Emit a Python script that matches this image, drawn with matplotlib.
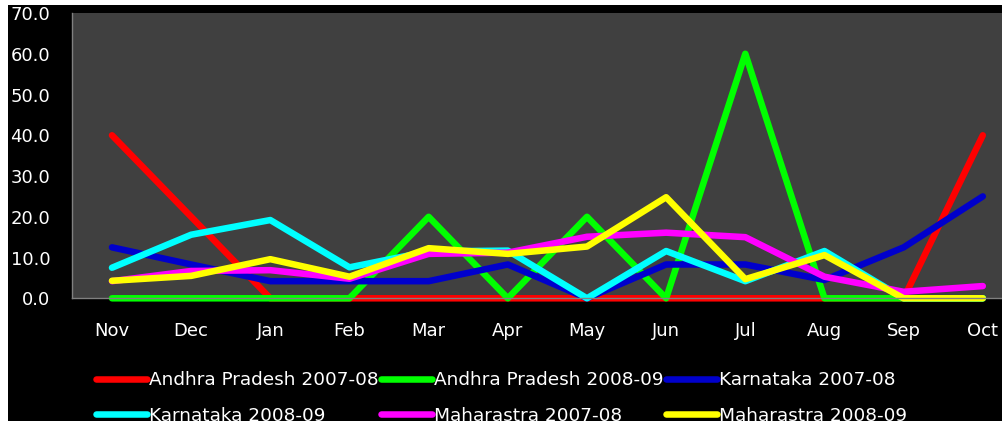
import matplotlib
matplotlib.use('Agg')
import matplotlib.pyplot as plt
from matplotlib.patches import Rectangle


months = ['Nov', 'Dec', 'Jan', 'Feb', 'Mar', 'Apr', 'May', 'Jun', 'Jul', 'Aug', 'Sep', 'Oct']

ap_0708 = [40, 20, 0, 0, 0, 0, 0, 0, 0, 0, 0, 40]
ap_0809 = [0, 0, 0, 0, 20, 0, 20, 0, 60, 0, 0, 0]
ka_0708 = [12.5, 8.3, 4.2, 4.2, 4.2, 8.3, 0, 8.3, 8.3, 4.5, 12.5, 25]
ka_0809 = [7.5, 15.6, 19.2, 7.6, 11.5, 11.7, 0, 11.6, 4.2, 11.6, 0, 0]
ma_0708 = [4.2, 6.7, 6.9, 4.8, 10.9, 11.2, 15.1, 16.1, 15.0, 5.3, 1.6, 3.0]
ma_0809 = [4.3, 5.5, 9.6, 5.3, 12.3, 10.9, 12.7, 24.8, 4.7, 10.6, 0, 0]

labels = ['Andhra Pradesh 2007-08', 'Andhra Pradesh 2008-09', 'Karnataka 2007-08',
          'Karnataka 2008-09', 'Maharastra 2007-08', 'Maharastra 2008-09']
colors = ['#ff0000', '#00ff00', '#0000cc', '#00ffff', '#ff00ff', '#ffff00']

W, H = 1002, 421

fig = plt.figure(figsize=(W / 100, H / 100), dpi=100, facecolor='white')
# black chart area, the picture has a thin white strip on the top and left
fig.patches.append(Rectangle((8 / W, 0), 1, (H - 5) / H, transform=fig.transFigure,
                             facecolor='black', edgecolor='none', zorder=-10))

# plot area runs past the right edge of the picture
ax = fig.add_axes([72.4 / W, (H - 298.3) / H, 950 / W, 285.3 / H])
ax.set_facecolor('#404040')

series = [ap_0708, ap_0809, ka_0708, ka_0809, ma_0708, ma_0809]
x = list(range(len(months)))
handles = []
for vals, lab, col in zip(series, labels, colors):
    ln, = ax.plot(x, vals, color=col, lw=4.7, label=lab, clip_on=False,
                  solid_capstyle='round', solid_joinstyle='round')
    handles.append(ln)

ax.set_xlim(-0.5, 11.5)
ax.set_ylim(0, 70)
ax.set_yticks(range(0, 71, 10))
ax.set_yticklabels(['%.1f' % v for v in range(0, 71, 10)])
ax.set_xticks(x)
ax.set_xticklabels(months)
ax.tick_params(length=0, colors='white', labelsize=13)
ax.tick_params(axis='x', pad=17)
ax.tick_params(axis='y', pad=16)

for side in ['top', 'right']:
    ax.spines[side].set_visible(False)
for side in ['left', 'bottom']:
    ax.spines[side].set_color('#808080')
    ax.spines[side].set_linewidth(1)

# legend reads across rows, matplotlib fills down columns, so reorder
order = [0, 3, 1, 4, 2, 5]
leg = fig.legend([handles[i] for i in order], [labels[i] for i in order],
                 ncol=3, loc='upper left', bbox_to_anchor=(96 / W, 0.118),
                 bbox_transform=fig.transFigure, frameon=False, fontsize=13.3,
                 handlelength=2.75, handletextpad=0.1, columnspacing=0.15,
                 labelspacing=0.95, borderpad=0, borderaxespad=0)
for t in leg.get_texts():
    t.set_color('white')

plt.savefig('out.png', dpi=100, facecolor=fig.get_facecolor())
